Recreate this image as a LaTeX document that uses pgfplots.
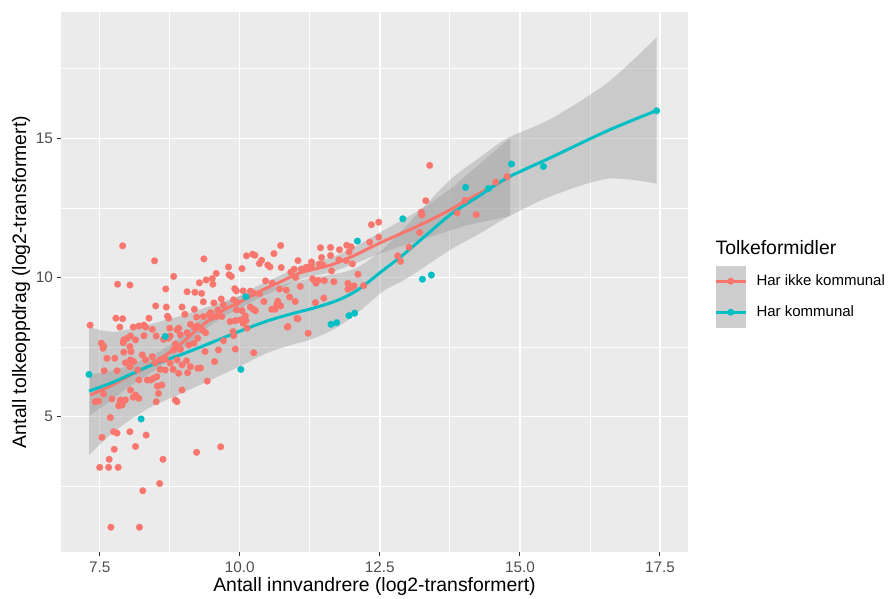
\documentclass[border=0pt]{standalone}
\usepackage{fontspec}
\setmainfont{Liberation Sans}
\usepackage{pgfplots}
\pgfplotsset{compat=1.18}
\usepgfplotslibrary{fillbetween}
\usepackage{pgfplotstable}

\definecolor{panelgrey}{HTML}{EBEBEB}
\definecolor{ggred}{HTML}{F8766D}
\definecolor{ggteal}{HTML}{00BFC4}
\definecolor{tickgrey}{HTML}{4D4D4D}
\definecolor{tickmark}{HTML}{333333}
\definecolor{ribbon}{HTML}{999999}
\definecolor{keybg}{HTML}{F2F2F2}

\pgfplotstableread{
x y
7.91 11.14
8.48 10.60
9.36 10.67
8.82 10.04
7.82 9.76
8.04 9.73
8.68 9.59
9.06 9.49
9.20 9.47
9.32 9.43
9.28 9.81
9.40 9.91
9.51 9.96
9.58 10.15
9.52 9.76
9.80 10.38
9.81 10.10
9.85 10.04
10.04 10.32
10.12 10.78
10.23 10.84
10.27 10.80
10.39 10.62
10.35 10.50
10.50 10.45
10.54 10.38
10.61 10.86
10.73 11.15
10.74 10.36
11.04 10.61
10.91 10.19
10.97 10.30
11.10 10.30
11.19 10.37
11.28 10.56
11.28 10.42
11.44 11.07
11.46 10.72
11.42 10.48
11.62 10.79
11.78 11.00
11.91 11.16
11.99 11.10
11.95 10.92
12.01 10.49
12.11 10.12
12.35 11.90
12.48 11.99
11.68 9.85
11.93 9.79
12.04 9.70
12.21 9.71
11.40 9.90
11.30 9.95
11.00 10.00
11.08 9.68
11.36 9.80
11.51 9.89
10.46 9.88
10.58 9.80
9.91 9.60
9.94 9.52
10.06 9.52
10.19 9.51
10.25 9.44
10.71 9.59
10.83 9.55
10.35 9.42
10.43 9.14
10.68 9.15
10.89 9.30
10.99 9.14
11.35 9.10
11.50 9.26
10.73 8.98
10.66 9.02
10.57 8.86
10.63 8.86
9.89 9.20
9.95 9.10
9.94 8.84
10.04 8.81
10.19 8.94
10.24 8.86
10.28 8.81
9.67 9.23
9.54 9.09
9.71 9.02
9.61 8.84
9.48 8.74
9.35 9.13
9.35 8.60
9.49 8.56
9.58 8.60
9.68 8.60
9.83 8.42
9.92 8.45
10.01 8.48
10.06 8.36
10.11 8.45
11.04 8.52
10.86 8.24
8.50 8.98
8.69 8.94
8.97 8.94
9.19 8.86
8.71 8.61
8.73 8.54
9.02 8.68
7.79 8.54
7.91 8.52
8.38 8.54
7.33 8.29
7.86 8.22
8.10 8.22
8.20 8.26
8.29 8.29
8.32 8.22
9.23 8.58
9.45 8.66
9.12 8.32
9.19 8.20
8.75 8.18
8.91 8.18
13.32 12.76
13.24 12.35
13.25 12.24
13.21 11.62
12.32 11.27
12.48 11.45
11.62 11.08
11.77 10.64
11.90 10.61
11.48 10.46
11.64 10.24
11.93 9.58
11.99 9.63
12.82 10.78
12.87 10.58
13.02 11.09
13.39 14.03
14.57 13.43
14.77 13.63
14.02 12.77
13.88 12.32
14.22 12.26
7.53 7.64
7.57 7.54
7.56 7.46
7.93 7.76
7.92 7.66
7.99 7.82
8.05 7.90
8.14 7.76
8.29 7.91
8.44 8.14
8.51 7.90
8.64 7.78
8.73 7.82
8.76 7.90
8.88 8.12
8.94 7.94
9.06 8.02
9.24 8.26
9.33 8.12
9.39 8.02
8.85 7.61
8.82 7.40
8.94 7.42
9.09 7.58
9.18 7.64
9.25 7.82
7.93 7.32
8.04 7.52
8.06 7.34
7.63 7.10
7.77 7.10
7.96 6.94
8.05 7.04
8.04 6.80
8.11 6.98
8.26 7.22
8.32 7.04
8.44 7.16
8.49 6.94
8.58 7.04
8.67 7.07
8.76 6.92
8.88 7.04
8.97 6.86
9.05 7.01
9.12 6.80
9.25 6.74
7.58 6.65
7.81 6.65
8.18 6.68
8.20 6.32
8.35 6.32
8.41 6.32
8.46 6.38
8.52 6.44
8.58 6.70
8.67 6.68
8.81 6.70
8.91 6.56
9.07 6.58
9.42 6.28
8.97 5.96
8.53 6.10
8.55 5.84
8.61 6.14
8.05 5.96
8.14 5.78
8.20 5.66
8.10 5.70
7.87 5.60
7.96 5.60
7.86 5.48
7.90 5.42
7.84 5.39
7.72 5.64
7.57 5.82
7.42 5.54
7.48 5.56
8.51 5.54
8.85 5.60
8.88 5.54
7.69 4.97
9.38 7.34
9.62 7.40
9.92 7.43
10.25 7.30
9.55 6.98
10.85 8.22
11.02 8.53
11.22 8.00
9.71 7.73
9.88 8.06
9.89 7.91
10.13 8.18
10.10 8.62
9.30 6.75
7.70 1.03
8.21 1.03
8.27 2.34
8.57 2.60
8.63 3.47
7.50 3.18
7.66 3.18
7.83 3.18
7.67 3.47
7.76 3.83
7.54 4.26
7.75 4.46
7.81 4.41
8.04 4.46
8.14 3.93
8.33 4.34
9.23 3.72
9.66 3.92
}\redpts

\pgfplotstableread{
x y
7.31 6.52
8.24 4.92
8.67 7.88
10.02 6.70
10.11 9.31
11.63 8.32
11.73 8.38
11.95 8.63
12.05 8.72
12.10 11.31
12.91 12.11
13.26 9.94
13.42 10.09
14.03 13.24
14.44 13.20
14.85 14.08
15.42 13.99
17.44 15.99
}\tealpts

\pgfplotstableread{
x y lo hi
7.33 5.78 5.06 6.50
7.69 6.10 5.56 6.64
7.99 6.43 6.03 6.83
8.46 6.93 6.64 7.22
8.88 7.51 7.25 7.77
9.30 8.23 7.99 8.47
9.66 8.77 8.54 9.00
10.01 9.13 8.90 9.36
10.37 9.52 9.29 9.75
10.73 9.85 9.62 10.08
11.08 10.17 9.93 10.41
11.62 10.45 10.19 10.71
12.03 10.78 10.48 11.08
12.51 11.25 10.87 11.63
13.23 11.90 11.35 12.45
13.76 12.44 11.69 13.19
14.07 12.80 11.88 13.72
14.83 13.62 12.22 15.02
}\redsm

\pgfplotstableread{
x y lo hi
7.31 5.92 3.62 8.22
7.75 6.25 4.45 8.05
8.35 6.79 5.28 8.30
8.94 7.22 5.82 8.62
9.48 7.65 6.32 8.98
10.01 8.08 6.82 9.34
10.49 8.44 7.29 9.59
10.91 8.69 7.57 9.81
11.26 8.87 7.77 9.97
11.62 9.09 8.08 10.10
11.89 9.31 8.41 10.21
12.16 9.63 8.83 10.43
12.57 10.28 9.52 11.04
12.87 10.74 9.84 11.64
13.17 11.25 10.21 12.29
13.76 12.26 11.00 13.52
14.30 12.97 11.60 14.34
14.78 13.59 12.17 15.01
15.55 14.31 12.92 15.70
16.57 15.28 13.55 17.01
17.44 16.00 13.37 18.63
}\tealsm

\begin{document}
\begin{tikzpicture}
\begin{axis}[
  at={(0pt,0pt)}, anchor=south west,
  width=627pt, height=540pt, scale only axis,
  xmin=6.81, xmax=18.0, ymin=0.14, ymax=19.54,
  axis background/.style={fill=panelgrey},
  axis line style={draw=none},
  xtick={7.5,10,12.5,15,17.5},
  xticklabels={7.5,10.0,12.5,15.0,17.5},
  ytick={5,10,15},
  yticklabels={5,10,15},
  minor xtick={8.75,11.25,13.75,16.25},
  minor ytick={2.5,7.5,12.5,17.5},
  grid=both,
  major grid style={white, line width=1.5pt},
  minor grid style={white, line width=0.75pt},
  tick align=outside, tick pos=left,
  major tick length=4.5pt, minor tick length=0pt,
  tick style={tickmark, line width=1pt},
  xticklabel style={font=\fontsize{15.3}{18}\selectfont, text=tickgrey, anchor=north, yshift=-1.5pt},
  yticklabel style={font=\fontsize{15.3}{18}\selectfont, text=tickgrey, anchor=east},
  xlabel={Antall innvandrere (log2-transformert)},
  ylabel={Antall tolkeoppdrag (log2-transformert)},
  every axis x label/.style={at={(rel axis cs:0.5,-0.0731)}, anchor=base, font=\fontsize{19.4}{22}\selectfont},
  every axis y label/.style={at={(rel axis cs:-0.0558,0.5)}, rotate=90, anchor=base, font=\fontsize{19.4}{22}\selectfont},
  legend style={at={(rel axis cs:1.0415,0.5302)}, anchor=north west, draw=none, fill=none,
    inner sep=0pt, outer sep=0pt, row sep=0pt, column sep=9pt,
    nodes={inner sep=0pt, anchor=west}, font=\fontsize{15}{18}\selectfont},
  legend cell align=left,
]
\addlegendimage{legend image code/.code={
  \fill[keybg, draw=none, overlay] (0pt,-46.5pt) rectangle (30.5pt,15.5pt);
  \fill[ribbon, draw=none, opacity=0.4, overlay] (0pt,-46.5pt) rectangle (30.5pt,15.5pt);
  \path[draw=none, fill=none] (0pt,-15.5pt) rectangle (30.5pt,15.5pt);
  \draw[ggred, line width=3pt] (0pt,0pt) -- (30.5pt,0pt);
  \fill[ggred, draw=none] (15.25pt,0pt) circle (3.5pt);
}}
\addlegendentry{Har ikke kommunal}
\addlegendimage{legend image code/.code={
  \path[draw=none, fill=none] (0pt,-15.5pt) rectangle (30.5pt,15.5pt);
  \draw[ggteal, line width=3pt] (0pt,0pt) -- (30.5pt,0pt);
  \fill[ggteal, draw=none] (15.25pt,0pt) circle (3.5pt);
}}
\addlegendentry{Har kommunal}

\addplot[only marks, color=ggred, mark=*, mark size=3.4pt, mark options={fill=ggred, draw=ggred, line width=0.1pt}] table[x=x,y=y] {\redpts};
\addplot[only marks, color=ggteal, mark=*, mark size=3.4pt, mark options={fill=ggteal, draw=ggteal, line width=0.1pt}] table[x=x,y=y] {\tealpts};

\addplot[draw=none, smooth, name path=rlo] table[x=x,y=lo] {\redsm};
\addplot[draw=none, smooth, name path=rhi] table[x=x,y=hi] {\redsm};
\addplot[ribbon, fill opacity=0.4, draw=none] fill between[of=rhi and rlo];
\addplot[ggred, line width=3pt, smooth] table[x=x,y=y] {\redsm};

\addplot[draw=none, smooth, name path=tlo] table[x=x,y=lo] {\tealsm};
\addplot[draw=none, smooth, name path=thi] table[x=x,y=hi] {\tealsm};
\addplot[ribbon, fill opacity=0.4, draw=none] fill between[of=thi and tlo];
\addplot[ggteal, line width=3pt, smooth] table[x=x,y=y] {\tealsm};
\end{axis}
\node[anchor=base west, font=\fontsize{19.4}{22}\selectfont] at (651pt,297pt) {Tolkeformidler};
\pgfresetboundingbox
\path[use as bounding box] (-61pt,-47pt) rectangle (830pt,552pt);
\end{tikzpicture}
\end{document}
